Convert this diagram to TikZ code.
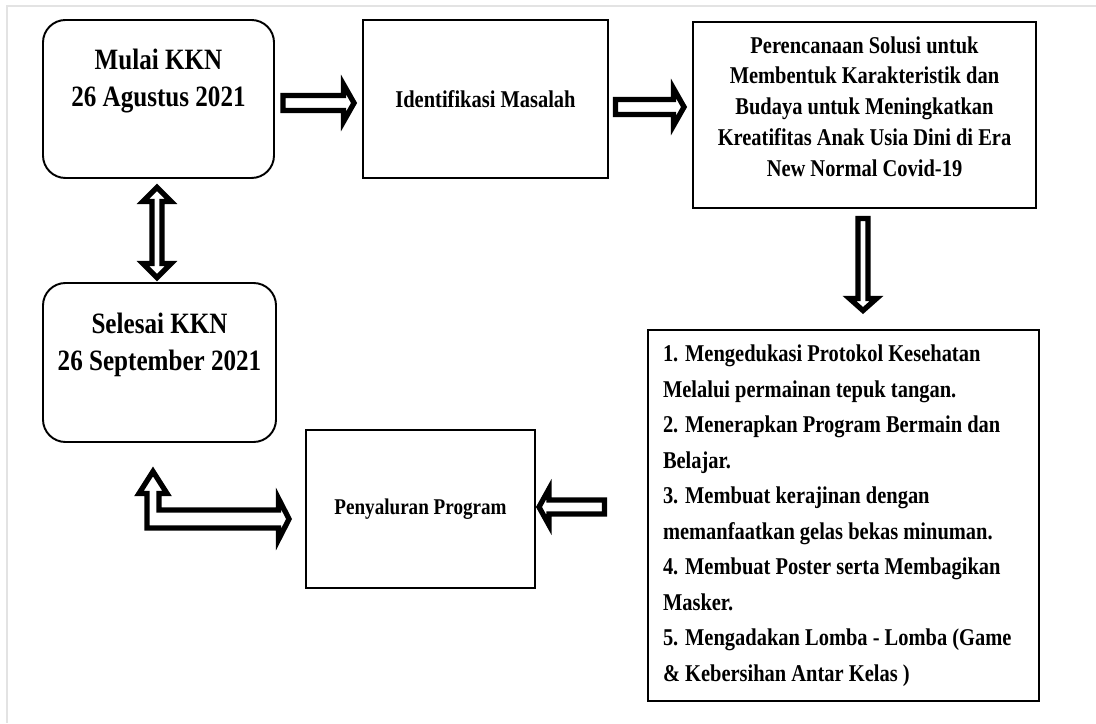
\documentclass[tikz,border=0pt]{standalone}
\usepackage{fontspec}
\setmainfont{Liberation Serif}[FakeStretch=0.85]
\usetikzlibrary{calc}
% hollow block arrow: [style](start)(tip)(shaft half:head half:head length)
\def\blockarrow[#1](#2)(#3)(#4:#5:#6){
	\coordinate (ba) at ($(#3)!#6!(#2)$);
	\draw[#1] ($(#2)!#4!90:(#3)$) -- ($(ba)!#4!90:(#3)$) -- ($(ba)!#5!90:(#3)$) -- (#3) -- ($(ba)!#5!-90:(#3)$) -- ($(ba)!#4!-90:(#3)$) -- ($(#2)!#4!-90:(#3)$) -- cycle;
}
% same, with a head on both ends
\def\dblockarrow[#1](#2)(#3)(#4:#5:#6){
	\coordinate (bb) at ($(#2)!#6!(#3)$);
	\coordinate (ba) at ($(#3)!#6!(#2)$);
	\draw[#1] (#2) -- ($(bb)!#5!90:(#3)$) -- ($(bb)!#4!90:(#3)$) -- ($(ba)!#4!90:(#3)$) -- ($(ba)!#5!90:(#3)$) -- (#3) -- ($(ba)!#5!-90:(#3)$) -- ($(ba)!#4!-90:(#3)$) -- ($(bb)!#4!-90:(#3)$) -- ($(bb)!#5!-90:(#3)$) -- cycle;
}

\begin{document}
\begin{tikzpicture}[
	roundbox/.style={draw, line width=1.1pt, rounded corners=0.45cm, minimum width=4.62cm, minimum height=3.16cm, align=center},
	plainbox/.style={draw, line width=1.1pt, align=center},
	bigtext/.style={font=\fontsize{16.8}{21}\selectfont\bfseries},
	smalltext/.style={font=\fontsize{13.7}{17.6}\selectfont\bfseries},
	listtext/.style={font=\fontsize{13.7}{20.2}\selectfont\bfseries},
	blockarrow/.style={draw=black, fill=white, line width=3pt, line join=miter},
	framegray/.style={draw=black!11, line width=1.1pt}
	]
			%%%%% START %%%%%
			
			\useasboundingbox (0,0) rectangle (21.92,14.46);
			\draw[framegray] (0.14,0) -- (0.14,14.34) -- (21.92,14.34);
			
			\node[roundbox, bigtext] (mulai) at (3.17,12.48) {Mulai KKN\\26 Agustus 2021\\[3pt]~};
			\node[plainbox, smalltext, minimum width=4.9cm, minimum height=3.16cm] (ident) at (9.71,12.48) {Identifikasi Masalah};
			\node[plainbox, smalltext, minimum width=6.86cm, minimum height=3.72cm] (plan) at (17.29,12.16) {Perencanaan Solusi untuk\\Membentuk Karakteristik dan\\Budaya untuk Meningkatkan\\Kreatifitas Anak Usia Dini di Era\\New Normal Covid-19\\[-8pt]~};
			
			\node[plainbox, listtext, minimum height=7.42cm, align=flush left, text width=7.22cm, inner xsep=0.3cm] (program) at (16.87,4.15) {1. Mengedukasi Protokol Kesehatan\\Melalui permainan tepuk tangan.\\2. Menerapkan Program Bermain dan\\Belajar.\\3. Membuat kerajinan dengan\\memanfaatkan gelas bekas minuman.\\4. Membuat Poster serta Membagikan\\Masker.\\5. Mengadakan Lomba - Lomba (Game\\\& Kebersihan Antar Kelas )};
			\node[plainbox, font=\fontsize{12.8}{16}\selectfont\bfseries, minimum width=4.58cm, minimum height=3.16cm] (salur) at (8.41,4.28) {Penyaluran Program};
			\node[roundbox, bigtext, minimum width=4.66cm, minimum height=3.18cm] (selesai) at (3.19,7.21) {Selesai KKN\\26 September 2021\\[3pt]~};
			
			\coordinate (a1s) at ($(mulai.east)+(0.16,-0.08)$);
			\coordinate (a1e) at ($(ident.west |- a1s)+(-0.16,0)$);
			\blockarrow[blockarrow](a1s)(a1e)(0.15cm:0.37cm:0.21cm)
			
			\coordinate (a2s) at ($(ident.east)+(0.13,-0.16)$);
			\coordinate (a2e) at ($(plan.west |- a2s)+(-0.16,0)$);
			\blockarrow[blockarrow](a2s)(a2e)(0.15cm:0.37cm:0.21cm)
			
			\coordinate (a3s) at ($(plan.south)+(-0.03,-0.19)$);
			\coordinate (a3e) at ($(program.north -| a3s)+(0,0.37)$);
			\blockarrow[blockarrow](a3s)(a3e)(0.1cm:0.27cm:0.24cm)
			
			\coordinate (a4e) at ($(salur.east)+(0.06,0.04)$);
			\coordinate (a4s) at ($(program.west |- a4e)+(-0.85,0)$);
			\blockarrow[blockarrow](a4s)(a4e)(0.14cm:0.36cm:0.2cm)
			
			\coordinate (a5s) at ($(mulai.south)+(-0.03,-0.17)$);
			\coordinate (a5e) at ($(selesai.north -| a5s)+(0,0.09)$);
			\dblockarrow[blockarrow](a5s)(a5e)(0.1cm:0.28cm:0.28cm)
			
			% bent arrow back to selesai
			\coordinate (lu) at ($(selesai.south)+(-0.13,-0.57)$);
			\coordinate (lr) at ($(salur.west)+(-0.32,-0.2)$);
			\coordinate (lc1) at ($(lu)+(0.12,0)$);
			\coordinate (lc2) at ($(lr)+(0,0.18)$);
			\coordinate (lc3) at ($(lu)+(-0.12,0)$);
			\coordinate (lc4) at ($(lr)+(0,-0.18)$);
			\draw[blockarrow] (lu) -- ($(lu)+(0.28,-0.44)$) -- ($(lu)+(0.12,-0.44)$) -- (lc1 |- lc2) -- ($(lr)+(-0.21,0.18)$) -- ($(lr)+(-0.21,0.41)$) -- (lr) -- ($(lr)+(-0.21,-0.41)$) -- ($(lr)+(-0.21,-0.18)$) -- (lc3 |- lc4) -- ($(lu)+(-0.12,-0.44)$) -- ($(lu)+(-0.28,-0.44)$) -- cycle;
			
			%%%%% END %%%%%
\end{tikzpicture}
\end{document}
